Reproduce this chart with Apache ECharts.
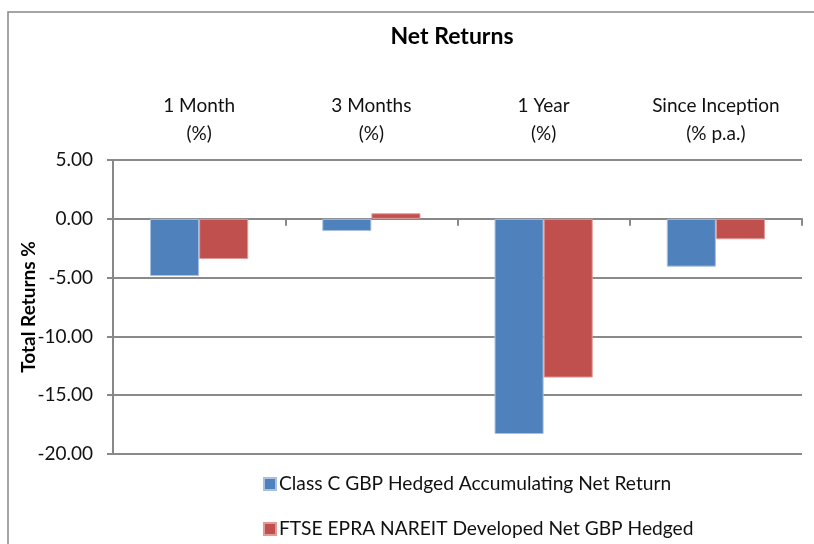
<!DOCTYPE html>
<html>
<head>
<meta charset="utf-8">
<script src="https://cdn.jsdelivr.net/npm/echarts@6/dist/echarts.min.js"></script>
<style>html,body{margin:0;padding:0;background:#fff;overflow:hidden}#c{width:814px;height:544px}</style>
</head>
<body>
<div id="c"></div>
<script>
var categories = ['1 Month\n(%)', '3 Months\n(%)', '1 Year\n(%)', 'Since Inception\n(% p.a.)'];
var seriesNames = ['Class C GBP Hedged Accumulating Net Return', 'FTSE EPRA NAREIT Developed Net GBP Hedged'];
var classC = [-4.86, -1.04, -18.3, -4.07];
var ftse = [-3.42, 0.47, -13.5, -1.74];
var yTicks = { min: -20, max: 5, interval: 5 };

var font = 'Lato, "Open Sans", sans-serif';
var legendText = { fontFamily: font, fontSize: 19.2, color: '#111', lineHeight: 20, padding: [0, 0, 0, -2] };
var chart = echarts.init(document.getElementById('c'), null, { renderer: 'canvas' });
chart.setOption({
  animation: false,
  textStyle: { fontFamily: font },
  title: {
    text: 'Net Returns', left: 447, top: 20, textAlign: 'center',
    textStyle: { fontFamily: font, fontWeight: 'bold', fontSize: 23, color: '#000' }
  },
  graphic: [{
    type: 'polyline', shape: { points: [[8, 544], [8, 12], [814, 12]] },
    style: { fill: 'none', stroke: '#888', lineWidth: 1.5 }, silent: true, z: -1
  }],
  legend: [{
    orient: 'vertical', left: 263, top: 474, padding: 0, itemWidth: 12, itemHeight: 12,
    icon: 'rect', textStyle: legendText, data: [seriesNames[0]]
  }, {
    orient: 'vertical', left: 263, top: 519, padding: 0, itemWidth: 12, itemHeight: 12,
    icon: 'rect', textStyle: legendText, data: [seriesNames[1]]
  }],
  grid: { left: 113, right: 12, top: 160, bottom: 90, containLabel: false },
  xAxis: [{
    type: 'category', data: categories, position: 'bottom',
    axisLine: { onZero: true, lineStyle: { color: '#888', width: 2 } },
    axisTick: { show: true, length: 7, lineStyle: { color: '#888', width: 2 } },
    axisLabel: { show: false }, splitLine: { show: false }
  }, {
    type: 'category', data: categories, position: 'top',
    axisLine: { show: false }, axisTick: { show: false },
    axisLabel: { show: true, margin: 12, fontFamily: font, fontSize: 19, color: '#111', lineHeight: 28, align: 'center' }
  }],
  yAxis: {
    type: 'value', min: yTicks.min, max: yTicks.max, interval: yTicks.interval,
    name: 'Total Returns %', nameLocation: 'middle', nameGap: 75, nameRotate: 90, nameMoveOverlap: false,
    nameTextStyle: { fontFamily: font, fontWeight: 'bold', fontSize: 19, color: '#000' },
    axisLine: { show: true, lineStyle: { color: '#888', width: 2 } },
    axisTick: { show: true, length: 6, lineStyle: { color: '#888', width: 2 } },
    axisLabel: { margin: 20, fontFamily: font, fontSize: 19, color: '#111', formatter: function (v) { return v.toFixed(2); } },
    splitLine: { show: true, lineStyle: { color: '#8a8a8a', width: 2 } }
  },
  series: [{
    name: seriesNames[0], type: 'bar', data: classC, barGap: '0%', barCategoryGap: '43%',
    itemStyle: { color: '#4F81BD', borderColor: '#a9c1e0', borderWidth: 1 }, xAxisIndex: 0
  }, {
    name: seriesNames[1], type: 'bar', data: ftse,
    itemStyle: { color: '#C0504D', borderColor: '#e09a98', borderWidth: 1 }, xAxisIndex: 0
  }]
});
</script>
</body>
</html>
